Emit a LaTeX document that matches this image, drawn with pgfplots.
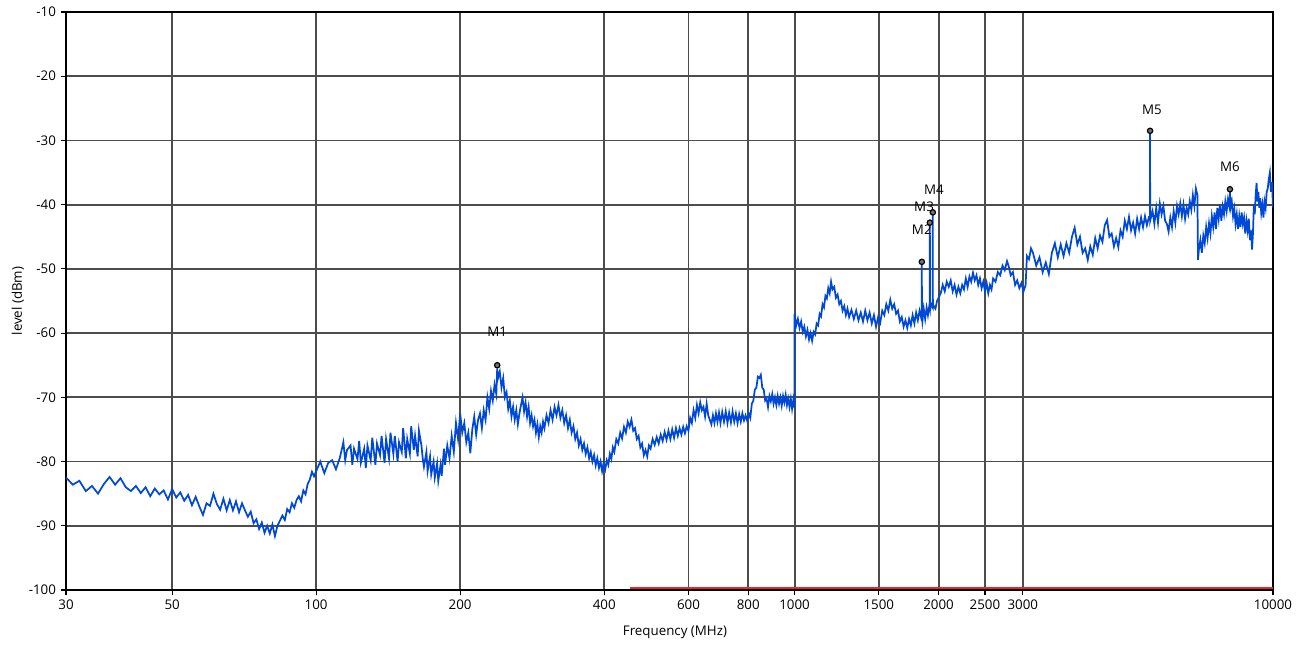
\documentclass[border=0pt]{standalone}
\usepackage{pgfplots}
\pgfplotsset{compat=1.18}
\usepackage{fontspec}
\setmainfont{Open Sans}
\definecolor{trace}{RGB}{0,72,216}
\definecolor{limit}{RGB}{232,40,40}
\begin{document}
\begin{tikzpicture}
\begin{axis}[
 scale only axis, width=905.25pt, height=433.5pt,
 xmode=log, log basis x=10,
 xmin=30, xmax=10000, ymin=-100, ymax=-10,
 xtick={30,50,100,200,400,600,800,1000,1500,2000,2500,3000,10000},
 xticklabels={30,50,100,200,400,600,800,1000,1500,2000,2500,3000,10000},
 ytick={-100,-90,-80,-70,-60,-50,-40,-30,-20,-10},
 yticklabels={-100,-90,-80,-70,-60,-50,-40,-30,-20,-10},
 tick align=outside, xtick pos=bottom, ytick pos=left,
 major tick length=4pt, minor tick length=0pt,
 tick style={black, line width=0.8pt},
 grid=major, major grid style={black!70, line width=1.4pt},
 axis line style={black, line width=1.1pt},
 ticklabel style={font=\fontsize{10}{12}\selectfont, text=black},
 xlabel={Frequency (MHz)}, ylabel={level (dBm)},
 label style={font=\fontsize{10}{12}\selectfont, text=black},
 xlabel style={at={(axis description cs:0.5045,-0.0727)}, anchor=center},
 ylabel style={at={(axis description cs:-0.0398,0.5)}, anchor=center},
]
\addplot[trace, line width=1.3pt] table {
x y
30 -82.5
31 -83.6
32 -83.0
33 -84.6
34 -83.8
35 -85.0
36 -83.5
37 -82.4
38 -83.6
39 -82.6
40 -84.0
41 -84.6
42 -83.8
43 -84.9
44 -84.0
45 -85.4
46 -84.2
47 -85.1
48 -84.5
49 -85.9
50 -84.3
51 -85.6
52 -84.8
53 -86.1
54 -85.2
55 -86.8
56 -85.5
57 -87.0
58 -88.3
59 -86.5
60 -86.9
61 -85.0
62 -86.6
63 -87.5
64 -85.8
65 -87.6
66 -86.0
67 -87.6
68 -86.2
69 -87.9
70 -86.5
71 -87.6
72 -88.6
73 -87.8
74 -89.6
75 -89.0
76 -90.5
77 -89.5
78 -91.1
79 -90.0
80 -91.2
81 -89.8
82 -91.6
83 -90.0
84 -89.2
85 -88.4
86 -89.1
87 -87.4
88 -87.9
89 -86.5
90 -87.2
91 -86.0
92 -85.4
93 -86.2
94 -84.5
95 -85.1
96 -83.5
97 -82.8
98 -81.6
99 -82.3
100 -81.5
102 -80.0
104 -81.8
106 -80.2
108 -79.8
110 -81.2
112 -79.5
114 -77.0
115 -79.8
116 -78.2
118 -77.5
119 -80.5
120 -78.0
122 -79.6
123 -76.8
124 -80.2
126 -78.0
127 -81.0
128 -77.5
130 -79.8
131 -76.3
133 -80.5
134 -77.2
136 -79.0
137 -76.0
139 -80.2
140 -76.5
142 -79.5
143 -75.5
145 -78.8
146 -76.0
148 -80.0
149 -77.0
151 -78.5
152 -74.8
154 -79.5
155 -76.5
157 -78.8
158 -74.5
160 -78.2
161 -76.0
163 -79.2
164 -75.2
166 -77.5
167 -79.5
168 -80.8
170 -78.5
171 -81.5
173 -79.2
174 -82.0
176 -80.0
177 -82.5
179 -80.3
180 -83.0
182 -80.5
183 -82.2
185 -78.0
186 -80.5
188 -77.5
190 -79.5
192 -76.0
194 -78.5
196 -74.0
198 -76.5
200 -72.5
202 -75.5
204 -74.0
206 -77.0
208 -75.5
210 -78.7
212 -75.0
214 -73.0
216 -75.8
218 -73.5
220 -72.5
222 -74.8
224 -72.0
226 -73.5
228 -70.0
230 -71.8
232 -69.0
234 -70.5
236 -68.0
238 -69.5
239 -65.5
240 -67.0
242 -66.0
244 -68.5
246 -67.0
248 -70.0
250 -69.2
252 -71.8
254 -70.5
256 -73.0
258 -71.5
260 -73.5
262 -72.0
264 -74.2
266 -72.5
268 -71.2
270 -70.0
272 -72.2
274 -70.8
276 -73.0
278 -71.5
280 -74.0
282 -72.8
284 -74.5
286 -73.5
288 -75.5
290 -74.2
292 -76.2
294 -74.5
296 -75.5
298 -73.8
300 -74.8
303 -72.8
306 -74.0
309 -72.0
312 -73.5
315 -71.5
318 -72.8
321 -71.2
324 -73.2
327 -72.0
330 -74.0
333 -72.8
336 -74.8
339 -73.5
342 -75.5
345 -74.5
348 -76.5
351 -75.5
354 -77.5
357 -76.5
360 -78.2
363 -77.2
366 -78.8
369 -77.8
372 -79.5
375 -78.5
378 -80.0
381 -79.0
384 -80.6
387 -79.5
390 -81.0
393 -80.0
396 -81.5
399 -80.2
402 -81.2
405 -79.8
408 -80.5
411 -78.8
414 -79.6
417 -77.8
420 -78.5
424 -76.5
428 -77.2
432 -75.5
436 -76.4
440 -74.6
444 -75.5
448 -73.8
452 -74.6
456 -73.5
460 -75.2
464 -74.8
468 -76.5
472 -76.0
476 -77.8
480 -77.2
484 -79.0
488 -78.2
492 -79.2
496 -77.5
500 -78.0
505 -76.5
510 -77.4
515 -76.2
520 -77.2
525 -75.8
530 -76.8
535 -75.4
540 -76.6
545 -75.2
550 -76.5
555 -75.0
560 -76.3
565 -74.8
570 -76.0
575 -74.8
580 -75.8
585 -74.6
590 -75.6
595 -74.5
600 -75.2
605 -73.2
610 -74.0
615 -72.0
620 -73.2
625 -71.2
630 -72.5
635 -70.8
640 -72.0
645 -71.5
650 -73.0
655 -71.0
660 -72.8
665 -73.5
670 -74.2
675 -72.8
680 -74.0
685 -72.5
690 -73.8
695 -72.4
700 -74.0
706 -72.3
712 -73.8
718 -72.2
724 -74.0
730 -72.4
736 -73.9
742 -72.2
748 -73.8
754 -72.5
760 -74.0
766 -72.6
772 -73.8
778 -72.5
784 -73.6
790 -72.8
796 -73.6
802 -72.5
808 -73.2
814 -71.0
820 -70.5
826 -68.8
832 -68.5
838 -66.8
844 -67.0
850 -66.5
856 -68.5
862 -68.8
868 -70.5
874 -70.2
880 -71.5
886 -69.8
892 -70.6
898 -69.5
904 -71.0
910 -70.0
916 -71.2
922 -69.8
928 -71.0
934 -70.0
940 -71.3
946 -69.8
952 -70.8
958 -69.6
964 -71.2
970 -70.2
976 -71.5
982 -70.2
988 -71.8
994 -70.4
999 -71.6
1000 -57.0
1008 -58.8
1016 -57.8
1024 -59.2
1032 -58.2
1040 -59.8
1048 -59.0
1056 -60.5
1064 -59.5
1072 -61.0
1080 -60.0
1088 -61.2
1096 -59.8
1104 -60.2
1112 -58.5
1120 -58.8
1128 -57.0
1136 -57.4
1144 -55.5
1152 -56.0
1160 -54.2
1168 -54.6
1176 -53.0
1184 -53.8
1192 -52.0
1200 -53.2
1210 -52.8
1220 -54.5
1230 -54.0
1240 -55.5
1250 -55.0
1260 -56.5
1270 -55.8
1280 -57.2
1290 -56.2
1300 -57.5
1315 -56.4
1330 -57.8
1345 -56.5
1360 -58.0
1375 -56.8
1390 -58.2
1405 -56.5
1420 -58.0
1435 -56.8
1450 -58.5
1465 -57.2
1480 -59.0
1495 -57.5
1510 -58.4
1525 -56.5
1540 -57.2
1555 -55.5
1570 -56.5
1585 -54.8
1600 -56.2
1615 -55.5
1630 -57.0
1645 -56.5
1660 -58.2
1675 -57.5
1690 -59.0
1705 -58.0
1720 -59.2
1735 -57.8
1750 -58.8
1765 -57.2
1780 -58.5
1795 -56.8
1810 -58.0
1825 -56.5
1838 -57.5
1844 -57.0
1845 -48.9
1846 -57.5
1850 -58.2
1862 -56.2
1875 -57.8
1888 -56.0
1900 -57.2
1912 -55.8
1917 -56.2
1918 -42.8
1919 -56.5
1930 -55.5
1944 -56.0
1945 -41.2
1946 -55.6
1955 -55.8
1970 -56.2
1985 -55.0
2000 -54.5
2020 -53.8
2040 -52.5
2060 -53.5
2080 -52.0
2100 -52.8
2120 -51.8
2140 -53.5
2160 -52.5
2180 -54.0
2200 -52.8
2220 -53.8
2240 -52.5
2260 -53.2
2280 -51.5
2300 -52.8
2320 -51.2
2340 -52.0
2360 -50.6
2380 -51.8
2400 -51.0
2420 -52.5
2440 -51.5
2460 -53.0
2480 -52.0
2500 -53.5
2520 -52.2
2540 -53.8
2560 -52.5
2580 -53.2
2600 -51.5
2630 -52.0
2660 -50.5
2690 -51.0
2720 -49.5
2750 -50.2
2780 -48.8
2800 -49.5
2830 -51.0
2860 -50.5
2890 -52.5
2920 -51.8
2950 -53.0
2980 -52.2
3010 -53.5
3040 -52.5
3060 -48.0
3090 -48.5
3120 -46.8
3150 -47.5
3200 -49.5
3250 -48.2
3300 -50.5
3350 -49.0
3400 -50.8
3450 -47.5
3500 -46.0
3550 -48.2
3600 -46.2
3650 -48.0
3700 -46.0
3750 -47.5
3800 -45.0
3850 -43.6
3900 -46.2
3950 -45.0
4000 -47.5
4050 -46.8
4100 -48.6
4150 -46.5
4200 -47.8
4250 -45.2
4300 -46.8
4350 -44.8
4400 -45.8
4450 -43.2
4500 -42.4
4550 -45.0
4600 -44.5
4650 -46.5
4700 -45.2
4750 -46.6
4800 -44.0
4850 -45.0
4900 -42.5
4950 -43.8
5000 -41.9
5050 -44.0
5100 -42.8
5150 -44.5
5200 -42.2
5250 -43.8
5300 -42.0
5350 -43.5
5400 -41.8
5450 -43.2
5500 -42.0
5534 -42.2
5535 -28.5
5536 -42.5
5600 -41.0
5650 -43.0
5700 -40.5
5750 -42.8
5800 -39.8
5850 -41.5
5900 -40.2
5950 -42.5
6000 -43.0
6050 -44.2
6100 -42.0
6150 -43.5
6200 -41.0
6250 -42.8
6300 -40.2
6350 -41.5
6400 -39.8
6450 -41.8
6500 -40.0
6550 -42.2
6600 -40.5
6650 -41.5
6700 -39.5
6750 -40.8
6800 -38.5
6850 -40.2
6900 -37.5
6950 -38.5
6970 -48.6
7000 -47.0
7050 -45.5
7100 -47.5
7150 -44.8
7200 -46.0
7250 -43.5
7300 -45.2
7350 -42.9
7400 -44.5
7450 -41.8
7500 -43.5
7550 -41.2
7600 -43.8
7650 -40.5
7700 -42.2
7750 -40.0
7800 -42.5
7850 -40.3
7900 -41.5
7950 -39.5
8000 -41.0
8050 -39.2
8100 -40.2
8128 -38.0
8150 -40.5
8200 -39.5
8250 -41.8
8300 -40.6
8350 -43.0
8400 -41.5
8450 -43.8
8500 -41.8
8550 -43.5
8600 -41.2
8650 -43.0
8700 -42.0
8750 -44.5
8800 -42.5
8850 -44.0
8900 -42.2
8950 -45.5
9000 -44.0
9040 -47.0
9080 -44.5
9120 -40.0
9160 -41.5
9200 -38.5
9240 -36.6
9280 -39.5
9320 -38.0
9360 -40.5
9400 -39.0
9450 -41.3
9500 -40.0
9550 -42.0
9600 -39.5
9650 -40.5
9700 -38.0
9750 -37.5
9800 -36.0
9850 -35.0
9900 -38.0
9950 -36.5
10000 -40.4
};
\addplot[limit, line width=2pt] coordinates {(453,-99.7) (10000,-99.7)};
\addplot[only marks, mark=*, mark size=2pt, mark options={draw=black, fill=black!55, line width=0.9pt}] coordinates {
(239,-65.0) (1845,-48.9) (1918,-42.8) (1945,-41.2) (5535,-28.5) (8128,-37.6)};
\node[font=\fontsize{10}{12}\selectfont] at (axis cs:239,-59.8) {M1};
\node[font=\fontsize{10}{12}\selectfont] at (axis cs:1845,-43.9) {M2};
\node[font=\fontsize{10}{12}\selectfont] at (axis cs:1865,-40.4) {M3};
\node[font=\fontsize{10}{12}\selectfont] at (axis cs:1956,-37.7) {M4};
\node[font=\fontsize{10}{12}\selectfont] at (axis cs:5585,-25.3) {M5};
\node[font=\fontsize{10}{12}\selectfont] at (axis cs:8128,-34.1) {M6};
\end{axis}
\pgfresetboundingbox
\path[use as bounding box] ([shift={(-49.5pt,-41.25pt)}]current axis.south west) rectangle ([shift={(23.25pt,9pt)}]current axis.north east);
\end{tikzpicture}
\end{document}
